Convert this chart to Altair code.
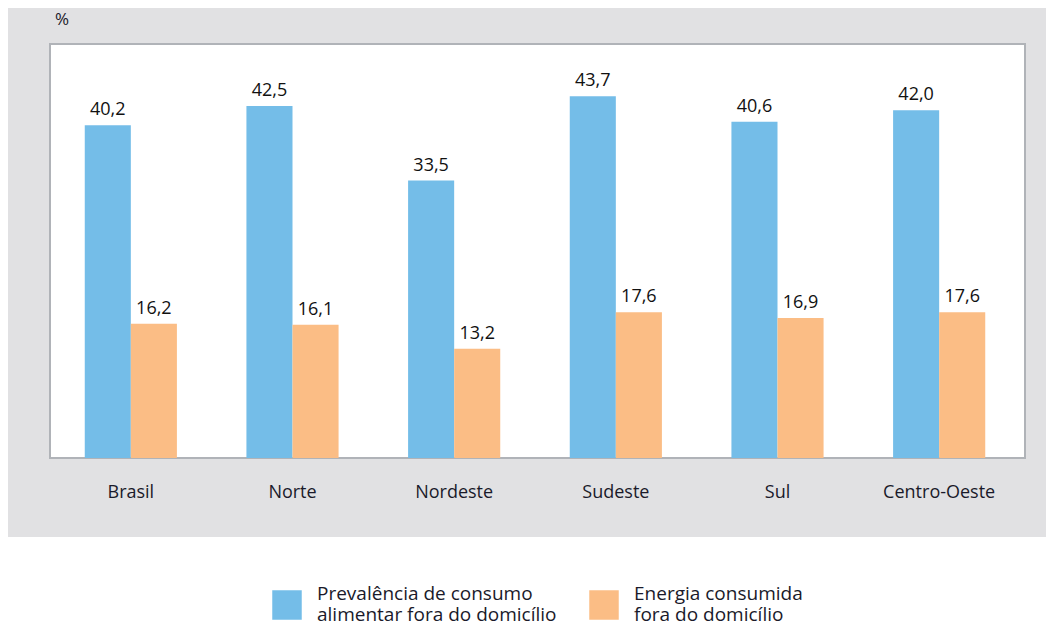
import altair as alt
import pandas as pd

regions = ["Brasil", "Norte", "Nordeste", "Sudeste", "Sul", "Centro-Oeste"]
prevalencia = [40.2, 42.5, 33.5, 43.7, 40.6, 42.0]
energia = [16.2, 16.1, 13.2, 17.6, 16.9, 17.6]
series = ["Prevalência de consumo|alimentar fora do domicílio",
          "Energia consumida|fora do domicílio"]
colors = ["#74BDE8", "#FBBD85"]
unit_label = ["%"]

rows = []
for r, p, e in zip(regions, prevalencia, energia):
    rows.append({"regiao": r, "serie": series[0], "valor": p})
    rows.append({"regiao": r, "serie": series[1], "valor": e})
df = pd.DataFrame(rows)
df["rotulo"] = df["valor"].map(lambda v: f"{v:.1f}".replace(".", ","))
one = pd.DataFrame({"t": unit_label})

W, H = 975, 414
PL, PT, PR, PB = 42, 36, 21, 167
FONT = "Open Sans"
TXT = "#1a1a2a"

x = alt.X("regiao:N", sort=regions, title=None,
          scale=alt.Scale(paddingInner=0.43, paddingOuter=0.215, range=[0, 970]),
          axis=alt.Axis(domain=False, ticks=False, labelAngle=0, labelPadding=25,
                        labelFontSize=18, labelFont=FONT, labelColor=TXT,
                        zindex=2))
xo = alt.XOffset("serie:N", sort=series)
y = alt.Y("valor:Q", scale=alt.Scale(domain=[0, 50]), axis=None)
color = alt.Color("serie:N", sort=series,
                  scale=alt.Scale(domain=series, range=colors),
                  legend=alt.Legend(orient="none", legendX=222, legendY=546,
                                    direction="horizontal", columns=2, title=None,
                                    symbolType="square", symbolSize=870,
                                    symbolStrokeWidth=0, symbolOpacity=1,
                                    labelFontSize=19, labelFont=FONT,
                                    labelColor=TXT, labelOffset=15,
                                    labelBaseline="line-bottom",
                                    columnPadding=32, padding=0, labelLimit=400,
                                    labelExpr="split(datum.label, '|')"))

base = alt.Chart(df)

gray = alt.Chart(one).mark_rect(color="#E1E1E3", clip=False).encode(
    x=alt.value(-PL), x2=alt.value(W + PR), y=alt.value(-PT), y2=alt.value(493))
white = alt.Chart(one).mark_rect(color="white", stroke="#B0B3B8", strokeWidth=2).encode(
    x=alt.value(0), x2=alt.value(W), y=alt.value(0), y2=alt.value(H))
pct = alt.Chart(one).mark_text(fontSize=17, font=FONT, color=TXT,
                               align="left", baseline="middle").encode(
    x=alt.value(5), y=alt.value(-24), text="t:N")

bars = base.mark_bar().encode(x=x, xOffset=xo, y=y, color=color)
labels = base.mark_text(fontSize=18, font=FONT, color="#111111",
                        baseline="alphabetic", dy=-10).encode(
    x=x, xOffset=xo, y=y, text="rotulo:N")

chart = alt.layer(gray, white, pct, bars, labels).properties(
    width=W, height=H,
    autosize=alt.AutoSizeParams(type="none"),
    padding={"left": PL, "top": PT, "right": PR, "bottom": PB},
).configure_view(stroke=None, fill=None).configure(background="white")

chart.save("out.html", embed_options={"renderer": "svg", "actions": False})
